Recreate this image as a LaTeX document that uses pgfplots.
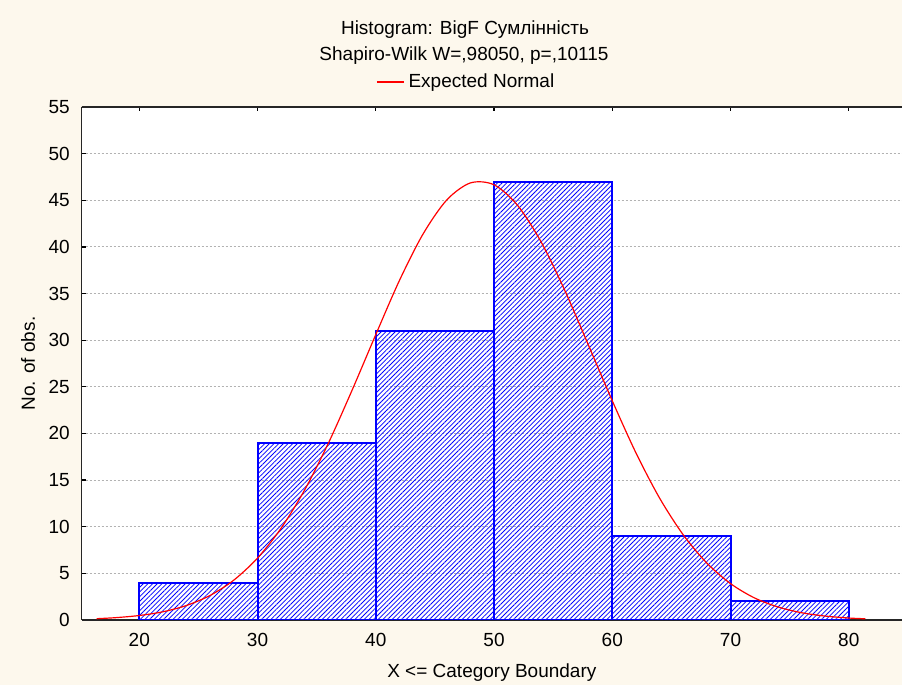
\documentclass[border=0pt]{standalone}
\usepackage{pgfplots}
\pgfplotsset{compat=1.18}
\usetikzlibrary{patterns.meta}
\usepackage{fontspec}
\setmainfont{Liberation Sans}
\definecolor{bgcream}{RGB}{253,248,237}
\newcommand{\chartfont}{\fontsize{9.5}{11}\selectfont}

\begin{document}
\begin{tikzpicture}[x=1pt,y=1pt]
\fill[bgcream] (0,0) rectangle (451,342.5);
\useasboundingbox (0,0) rectangle (451,342.5);
\begin{axis}[
    at={(40.85pt,32.5pt)}, anchor=south west,
    scale only axis, width=410.15pt, height=256.5pt,
    xmin=15.13, xmax=84.5, ymin=0, ymax=55,
    axis background/.style={fill=white},
    axis x line=box, axis y line=left,
    every outer y axis line/.append style={-},
    y axis line style={-},
    axis line style={black!85, line width=0.75pt},
    xtick={20,30,...,80}, ytick={0,5,...,55},
    tick align=inside, major tick length=2pt,
    tick style={black, line width=0.6pt},
    ymajorgrids,
    major grid style={gray!60, line width=0.5pt, dash pattern=on 1pt off 1pt},
    /pgf/number format/assume math mode=true,
    tick label style={font=\chartfont},
    xticklabel style={yshift=-3pt},
    yticklabel style={xshift=-2.5pt},
    label style={font=\chartfont},
    xlabel={X <= Category Boundary},
    ylabel={No. of obs.},
    xlabel style={at={(axis description cs:0.5,-0.103)}, anchor=center},
    ylabel style={at={(axis description cs:-0.0655,0.5)}, anchor=center},
    legend style={at={(axis description cs:0.47,1.049)}, anchor=center,
        draw=none, fill=none, font=\chartfont, inner sep=0pt},
    legend image code/.code={\draw[#1, line width=0.7pt] (0pt,0pt) -- (13.5pt,0pt);},
]
% histogram bars (upper class boundaries)
\addplot[ybar interval, forget plot, draw=blue, line width=1pt,
    pattern={Lines[angle=45,distance=1.65pt,line width=0.4pt]}, pattern color=blue]
    coordinates {(20,4) (30,19) (40,31) (50,47) (60,9) (70,2) (80,2)};

% expected normal curve
\addplot[red, line width=0.6pt, smooth] coordinates {
    (16.4,0.14) (18,0.25) (20,0.48) (22,0.88) (24,1.56) (26,2.64) (28,4.28)
    (30,6.64) (32,9.85) (34,13.98) (36,18.98) (38,24.65) (40,30.6)
    (42,36.4) (44,41.39) (46,45.03) (48,46.86) (50,46.66)
    (52,44.44) (54,40.49) (56,35.29) (58,29.42) (60,23.5) (62,17.92)
    (64,13.07) (66,9.13) (68,6.10) (70,3.90) (72,2.38) (74,1.40)
    (76,0.78) (78,0.42) (80,0.21) (81.4,0.13)
};
\addlegendentry{Expected Normal}
\end{axis}
\node[font=\chartfont] at (232.5,327.5) {Histogram: BigF Сумлінність};
\node[font=\chartfont] at (232,314.5) {Shapiro-Wilk W=,98050, p=,10115};
\end{tikzpicture}
\end{document}
